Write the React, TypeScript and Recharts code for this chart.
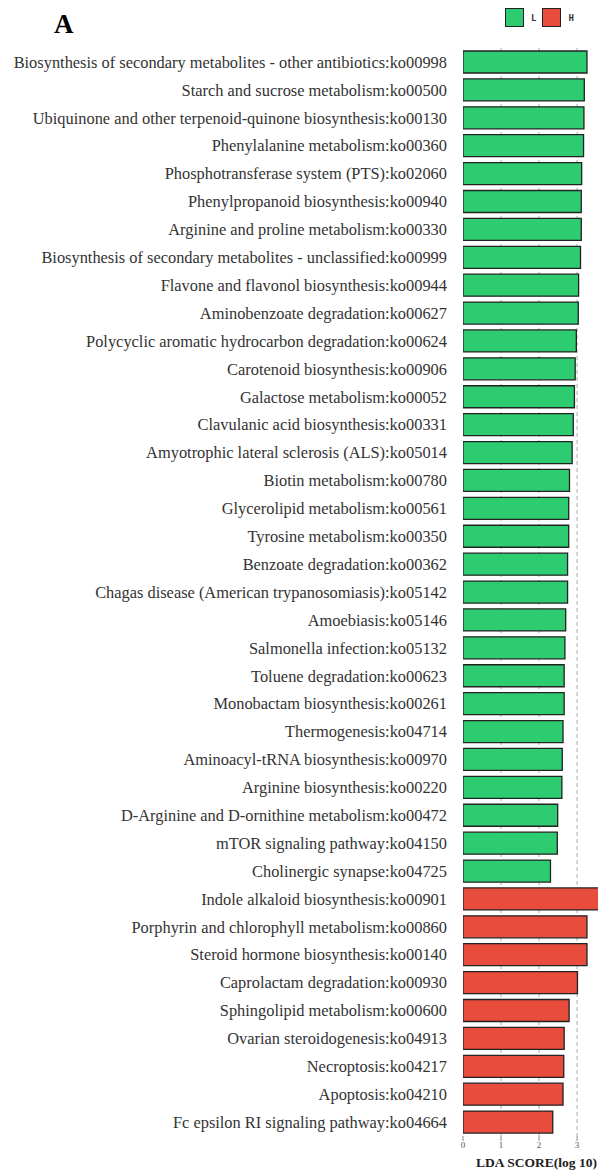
import { BarChart, Bar, XAxis, YAxis, Cell, Legend, CartesianGrid } from 'recharts';

const pathways = [
  'Biosynthesis of secondary metabolites - other antibiotics:ko00998',
  'Starch and sucrose metabolism:ko00500',
  'Ubiquinone and other terpenoid-quinone biosynthesis:ko00130',
  'Phenylalanine metabolism:ko00360',
  'Phosphotransferase system (PTS):ko02060',
  'Phenylpropanoid biosynthesis:ko00940',
  'Arginine and proline metabolism:ko00330',
  'Biosynthesis of secondary metabolites - unclassified:ko00999',
  'Flavone and flavonol biosynthesis:ko00944',
  'Aminobenzoate degradation:ko00627',
  'Polycyclic aromatic hydrocarbon degradation:ko00624',
  'Carotenoid biosynthesis:ko00906',
  'Galactose metabolism:ko00052',
  'Clavulanic acid biosynthesis:ko00331',
  'Amyotrophic lateral sclerosis (ALS):ko05014',
  'Biotin metabolism:ko00780',
  'Glycerolipid metabolism:ko00561',
  'Tyrosine metabolism:ko00350',
  'Benzoate degradation:ko00362',
  'Chagas disease (American trypanosomiasis):ko05142',
  'Amoebiasis:ko05146',
  'Salmonella infection:ko05132',
  'Toluene degradation:ko00623',
  'Monobactam biosynthesis:ko00261',
  'Thermogenesis:ko04714',
  'Aminoacyl-tRNA biosynthesis:ko00970',
  'Arginine biosynthesis:ko00220',
  'D-Arginine and D-ornithine metabolism:ko00472',
  'mTOR signaling pathway:ko04150',
  'Cholinergic synapse:ko04725',
  'Indole alkaloid biosynthesis:ko00901',
  'Porphyrin and chlorophyll metabolism:ko00860',
  'Steroid hormone biosynthesis:ko00140',
  'Caprolactam degradation:ko00930',
  'Sphingolipid metabolism:ko00600',
  'Ovarian steroidogenesis:ko04913',
  'Necroptosis:ko04217',
  'Apoptosis:ko04210',
  'Fc epsilon RI signaling pathway:ko04664',
];

const ldaScores = [
  3.26, 3.19, 3.18, 3.17, 3.12, 3.11, 3.11, 3.09, 3.04, 3.03,
  2.98, 2.95, 2.93, 2.9, 2.87, 2.8, 2.78, 2.78, 2.75, 2.75,
  2.7, 2.68, 2.66, 2.66, 2.63, 2.61, 2.6, 2.49, 2.48, 2.3,
  3.7, 3.26, 3.26, 3.01, 2.79, 2.66, 2.65, 2.63, 2.36,
];

const groupOf = [
  'L', 'L', 'L', 'L', 'L', 'L', 'L', 'L', 'L', 'L',
  'L', 'L', 'L', 'L', 'L', 'L', 'L', 'L', 'L', 'L',
  'L', 'L', 'L', 'L', 'L', 'L', 'L', 'L', 'L', 'L',
  'H', 'H', 'H', 'H', 'H', 'H', 'H', 'H', 'H',
];

const groups = ['L', 'H'];
const groupColors: Record<string, string> = { L: '#2ecc71', H: '#e74c3c' };
const xTicks = [0, 1, 2, 3];
const gridValues = [1, 2, 3];

const data = pathways.map((name, i) => ({ name, value: ldaScores[i], group: groupOf[i] }));

const serif = '"Liberation Serif", "Times New Roman", serif';

function LegendBox() {
  return (
    <div style={{ position: 'relative', width: 598, height: 40 }}>
      <div
        style={{
          position: 'absolute',
          left: 54,
          top: 11,
          fontFamily: serif,
          fontWeight: 'bold',
          fontSize: 27,
          lineHeight: '27px',
          color: '#000',
        }}
      >
        A
      </div>
      <div style={{ position: 'absolute', left: 505, top: 8, display: 'flex', alignItems: 'center' }}>
        {groups.map((g) => (
          <div key={g} style={{ display: 'flex', alignItems: 'center', marginRight: 6 }}>
            <div
              style={{
                width: 17,
                height: 17,
                background: groupColors[g],
                border: '1px solid #222',
              }}
            />
            <span
              style={{
                fontFamily: '"DejaVu Sans Mono", monospace',
                fontWeight: 'bold',
                fontSize: 9,
                color: '#333',
                marginLeft: 7,
              }}
            >
              {g}
            </span>
          </div>
        ))}
      </div>
    </div>
  );
}

export default function App() {
  return (
    <div style={{ position: 'absolute', left: 0, top: 0, background: '#fff' }}>
      <BarChart
        width={598}
        height={1171}
        data={data}
        layout="vertical"
        margin={{ top: 48, right: 0, bottom: 0, left: 0 }}
        barSize={22}
      >
        <Legend
          layout="vertical"
          align="center"
          verticalAlign="middle"
          wrapperStyle={{ top: 0, left: 0, width: 598 }}
          content={() => <LegendBox />}
        />
        <CartesianGrid
          horizontal={false}
          verticalValues={gridValues}
          stroke="#aaa"
          strokeDasharray="4 3"
        />
        <XAxis
          type="number"
          domain={[0, 3.55]}
          ticks={xTicks}
          allowDataOverflow
          height={35}
          axisLine={false}
          tickSize={5}
          tickMargin={1}
          tickLine={{ stroke: '#888' }}
          tick={{ fontSize: 9, fill: '#555', fontFamily: serif }}
          label={{
            value: 'LDA SCORE(log 10)',
            position: 'insideBottom',
            offset: 4,
            dx: 6,
            style: { fontFamily: serif, fontWeight: 'bold', fontSize: 13.5, fill: '#222' },
          }}
        />
        <YAxis
          type="category"
          dataKey="name"
          width={463}
          axisLine={false}
          tickLine={false}
          tickMargin={10}
          interval={0}
          tick={{ fontSize: 16.4, fill: '#333', fontFamily: serif }}
        />
        <Bar dataKey="value" stroke="#222" strokeWidth={1.3} isAnimationActive={false}>
          {data.map((d, i) => (
            <Cell key={i} fill={groupColors[d.group]} />
          ))}
        </Bar>
      </BarChart>
    </div>
  );
}
